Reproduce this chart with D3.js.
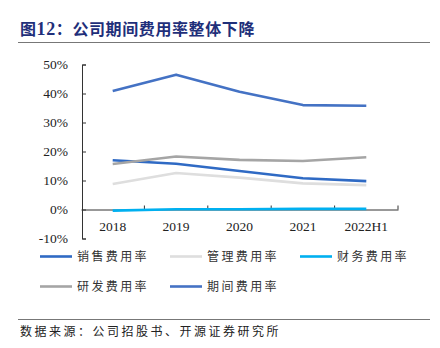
<!DOCTYPE html>
<html>
<head>
<meta charset="utf-8">
<script src="https://cdn.jsdelivr.net/npm/d3@7"></script>
<style>
  body { margin: 0; background: #fff; }
  svg { display: block; }
</style>
</head>
<body>
<div class="chart"></div>
<script>
const width = 440;
const height = 348;

const years = ["2018", "2019", "2020", "2021", "2022H1"];
const yTicks = [-10, 0, 10, 20, 30, 40, 50];

// values in %
const sales = [17.0, 15.8, 13.3, 10.8, 9.8];
const admin = [8.8, 12.6, 11.0, 9.0, 8.4];
const finance = [-0.4, 0.1, 0.1, 0.2, 0.2];
const rnd = [15.7, 18.3, 17.1, 16.7, 18.0];
const period = [40.9, 46.5, 40.6, 36.0, 35.8];

const seriesNames = ["销售费用率", "管理费用率", "财务费用率", "研发费用率", "期间费用率"];
const seriesColors = ["#2f6ac4", "#dedede", "#00b0f0", "#a5a5a5", "#4472c4"];
const seriesValues = [sales, admin, finance, rnd, period];

const svg = d3.select(".chart")
  .append("svg")
  .attr("width", width)
  .attr("height", height);

// title
const title = svg.append("text")
  .attr("x", 20)
  .attr("y", 35)
  .attr("fill", "#1f2f7a")
  .attr("font-family", "'Noto Sans CJK SC', sans-serif")
  .attr("font-weight", "bold")
  .attr("font-size", 16)
  .attr("letter-spacing", 0.6);
title.append("tspan").text("图");
title.append("tspan")
  .attr("font-family", "'Liberation Serif', serif")
  .attr("font-size", 18)
  .text("12");
title.append("tspan").text("：公司期间费用率整体下降");

svg.append("line")
  .attr("x1", 18).attr("x2", 430)
  .attr("y1", 42.5).attr("y2", 42.5)
  .attr("stroke", "#777")
  .attr("stroke-width", 1.2);

const x = d3.scaleBand()
  .domain(years)
  .range([81, 398]);

const y = d3.scaleLinear()
  .domain([-10, 50])
  .range([238.5, 64.5]);

// y axis
const yAxis = svg.append("g")
  .attr("transform", "translate(82,0)")
  .call(d3.axisRight(y).tickValues(yTicks).tickSize(4).tickFormat(() => ""));
yAxis.select(".domain").attr("stroke", "#333");
yAxis.selectAll(".tick line").attr("stroke", "#333");

svg.append("g")
  .selectAll("text")
  .data(yTicks)
  .join("text")
  .attr("x", 68)
  .attr("y", d => y(d))
  .attr("dy", "0.35em")
  .attr("text-anchor", "end")
  .attr("font-family", "'Liberation Serif', serif")
  .attr("font-size", 13.5)
  .attr("fill", "#222")
  .text(d => d + "%");

// x axis at 0%
const xAxis = svg.append("g")
  .attr("transform", `translate(0,${y(0)})`)
  .call(d3.axisTop(x).tickValues([]).tickSizeOuter(0));
xAxis.select(".domain").attr("stroke", "#333");
const bandTicks = years.map(d => x(d) + x.bandwidth());
xAxis.selectAll(".btick")
  .data(bandTicks)
  .join("line")
  .attr("x1", d => d).attr("x2", d => d)
  .attr("y1", 0).attr("y2", -4)
  .attr("stroke", "#333");

svg.append("g")
  .selectAll("text")
  .data(years)
  .join("text")
  .attr("x", d => x(d) + x.bandwidth() / 2)
  .attr("y", y(0) + 17)
  .attr("dy", "0.35em")
  .attr("text-anchor", "middle")
  .attr("font-family", "'Liberation Serif', serif")
  .attr("font-size", 13.5)
  .attr("fill", "#222")
  .text(d => d);

// lines
const line = d3.line()
  .x((d, i) => x(years[i]) + x.bandwidth() / 2)
  .y(d => y(d));

svg.append("g")
  .selectAll("path")
  .data(seriesValues)
  .join("path")
  .attr("d", d => line(d))
  .attr("fill", "none")
  .attr("stroke", (d, i) => seriesColors[i])
  .attr("stroke-width", 2.6)
  .attr("stroke-linejoin", "round");

// legend
const legendPos = [[40, 256.5], [170, 256.5], [300, 256.5], [40, 286.5], [170, 286.5]];
const legend = svg.append("g")
  .selectAll("g")
  .data(seriesNames)
  .join("g")
  .attr("transform", (d, i) => `translate(${legendPos[i][0]},${legendPos[i][1]})`);

legend.append("line")
  .attr("x1", 0).attr("x2", 32)
  .attr("stroke", (d, i) => seriesColors[i])
  .attr("stroke-width", 2.6);

legend.append("text")
  .attr("x", 37)
  .attr("dy", "0.35em")
  .attr("font-family", "'Noto Sans CJK SC', sans-serif")
  .attr("font-size", 12)
  .attr("letter-spacing", 2.4)
  .attr("fill", "#333")
  .text(d => d);

// footer
svg.append("line")
  .attr("x1", 18).attr("x2", 430)
  .attr("y1", 319.5).attr("y2", 319.5)
  .attr("stroke", "#777")
  .attr("stroke-width", 1.2);

svg.append("text")
  .attr("x", 20)
  .attr("y", 332)
  .attr("dy", "0.35em")
  .attr("font-family", "'Noto Sans CJK SC', sans-serif")
  .attr("font-size", 12)
  .attr("letter-spacing", 2.5)
  .attr("fill", "#222")
  .text("数据来源：公司招股书、开源证券研究所");
</script>
</body>
</html>
